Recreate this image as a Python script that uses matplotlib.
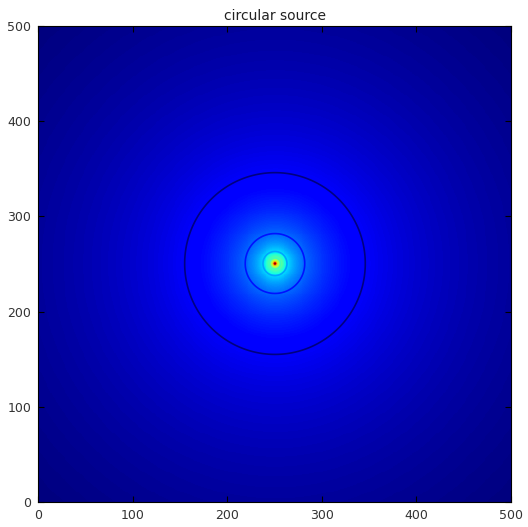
import numpy as np
import matplotlib
matplotlib.use('Agg')
import matplotlib.pyplot as plt

# sorgente circolare: campo radiale 1/r^p sulla griglia
grid_size = 500
source_x = 250
source_y = 250
decay_exp = 0.201
r_min = 0.5
contour_levels = [0.4, 0.5, 0.6, 0.7, 0.8, 0.9, 1.0, 1.1]
tick_values = [0, 100, 200, 300, 400, 500]

xx, yy = np.meshgrid(np.arange(grid_size) + 0.5, np.arange(grid_size) + 0.5)
rr = np.sqrt((xx - source_x - 0.5) ** 2 + (yy - source_y - 0.5) ** 2)
rr = np.maximum(rr, r_min)
campo = 1.0 / rr ** decay_exp

fig = plt.figure(figsize=(5.28, 5.27), dpi=100)
ax = fig.add_axes([38 / 528, 25 / 527, 473 / 528, 476 / 527])

ax.imshow(campo, cmap='jet', origin='lower', extent=[0, grid_size, 0, grid_size],
          aspect='auto', interpolation='nearest')
ax.contour(xx, yy, campo, levels=contour_levels, cmap='jet', linewidths=1.2)

ax.set_xlim(0, grid_size)
ax.set_ylim(0, grid_size)
ax.set_xticks(tick_values)
ax.set_yticks(tick_values)
ax.tick_params(direction='in', top=True, right=True, length=4, labelsize=9,
               labelcolor='#333333', pad=5)
ax.set_title('circular source', fontsize=10, color='#222222', pad=4)

fig.savefig('out.png', dpi=100)
